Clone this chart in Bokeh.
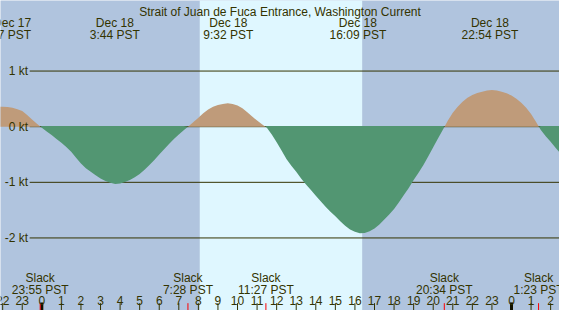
import numpy as np
from bokeh.plotting import figure
from bokeh.models import Range1d
from bokeh.core.properties import value
from bokeh.embed import file_html
from bokeh.resources import INLINE

# ---------------- data (hours from Dec 18 00:00 PST, knots) ----------------
title = "Strait of Juan de Fuca Entrance, Washington Current"

hours = [-2.5, -2.25, -2.0, -1.75, -1.5, -1.25, -1.0, -0.75, -0.5, -0.25,
         0.0, 0.25, 0.5, 0.75, 1.0, 1.25, 1.5, 1.75, 2.0, 2.25,
         2.5, 2.75, 3.0, 3.25, 3.5, 3.75, 4.0, 4.25, 4.5, 4.75,
         5.0, 5.25, 5.5, 5.75, 6.0, 6.25, 6.5, 6.75, 7.0, 7.25,
         7.5, 7.75, 8.0, 8.25, 8.5, 8.75, 9.0, 9.25, 9.5, 9.75,
         10.0, 10.25, 10.5, 10.75, 11.0, 11.25, 11.5, 11.75, 12.0, 12.25,
         12.5, 12.75, 13.0, 13.25, 13.5, 13.75, 14.0, 14.25, 14.5, 14.75,
         15.0, 15.25, 15.5, 15.75, 16.0, 16.25, 16.5, 16.75, 17.0, 17.25,
         17.5, 17.75, 18.0, 18.25, 18.5, 18.75, 19.0, 19.25, 19.5, 19.75,
         20.0, 20.25, 20.5, 20.75, 21.0, 21.25, 21.5, 21.75, 22.0, 22.25,
         22.5, 22.75, 23.0, 23.25, 23.5, 23.75, 24.0, 24.25, 24.5, 24.75,
         25.0, 25.25, 25.5, 25.75, 26.0, 26.25, 26.5]
speed = [0.35, 0.36, 0.36, 0.355, 0.34, 0.315, 0.28, 0.21, 0.13, 0.055,
         -0.02, -0.085, -0.15, -0.22, -0.29, -0.365, -0.45, -0.56, -0.66, -0.745,
         -0.81, -0.875, -0.93, -0.975, -1.01, -1.03, -1.02, -0.995, -0.96, -0.91,
         -0.85, -0.775, -0.69, -0.60, -0.50, -0.405, -0.31, -0.22, -0.14, -0.065,
         0.01, 0.085, 0.16, 0.24, 0.31, 0.36, 0.39, 0.41, 0.42, 0.41,
         0.38, 0.33, 0.26, 0.185, 0.11, 0.045, -0.02, -0.14, -0.28, -0.43,
         -0.58, -0.70, -0.81, -0.93, -1.04, -1.14, -1.24, -1.34, -1.44, -1.53,
         -1.61, -1.70, -1.78, -1.85, -1.89, -1.915, -1.91, -1.88, -1.83, -1.76,
         -1.67, -1.58, -1.48, -1.36, -1.23, -1.10, -0.96, -0.83, -0.69, -0.53,
         -0.37, -0.21, -0.05, 0.11, 0.25, 0.36, 0.45, 0.52, 0.57, 0.605,
         0.63, 0.65, 0.66, 0.65, 0.63, 0.60, 0.56, 0.50, 0.43, 0.34,
         0.23, 0.09, -0.06, -0.17, -0.27, -0.38, -0.48]

levels = [1, 0, -1, -2]
level_labels = ["1 kt", "0 kt", "-1 kt", "-2 kt"]

hour_ticks = list(range(-2, 27))
hour_labels = ["22", "23"] + [str(h) for h in range(24)] + ["0", "1", "2"]
midnights = [0, 24]

slack_times = [-0.083, 7.467, 11.45, 20.567, 25.383]
slack_labels = ["23:55 PST", "7:28 PST", "11:27 PST", "20:34 PST", "1:23 PST"]

peak_times = [3.733, 9.533, 16.15, 22.9]
peak_dates = ["Dec 18", "Dec 18", "Dec 18", "Dec 18"]
peak_labels = ["3:44 PST", "9:32 PST", "16:09 PST", "22:54 PST"]
first_peak_date = "Dec 17"
first_peak_label = "21:37 PST"

sunrise, sunset = 8.07, 16.37

# ---------------- styling ----------------
NIGHT = "#b0c4de"
DAY = "#dff7ff"
FLOOD = "#bf9b7a"
EBB = "#529672"
INK = "#333300"
FONT = value("Liberation Sans")
FS = "12px"

# reference pixel -> data helpers (reference: 575x326, 20.13 px/h, 58.5 px/kt)
def kx(px):
    return (px - 42.5) / 20.13

def ky(py):
    return (132.7 - py) / 58.5

W, H = 559, 310
p = figure(width=W, height=H, output_backend="svg", toolbar_location=None,
           x_range=Range1d(kx(0), kx(575)), y_range=Range1d(ky(326), ky(0)),
           min_border=0, min_border_left=0, min_border_right=0,
           min_border_top=0, min_border_bottom=0)
p.axis.visible = False
p.xgrid.visible = False
p.ygrid.visible = False
p.outline_line_color = None
p.background_fill_color = NIGHT
p.border_fill_color = NIGHT

# day band
p.quad(left=[sunrise], right=[sunset], bottom=[ky(340)], top=[ky(-20)],
       fill_color=DAY, line_color=None)

# horizontal level lines
p.segment(x0=[kx(30)] * len(levels), x1=[kx(580)] * len(levels),
          y0=levels, y1=levels, line_color=INK, line_width=1)

# curve with zero crossings inserted
t = np.array(hours, dtype=float)
v = np.array(speed, dtype=float)
tt, vv = [t[0]], [v[0]]
for i in range(1, len(t)):
    a, b = v[i - 1], v[i]
    if a * b < 0:
        tt.append(t[i - 1] + (t[i] - t[i - 1]) * a / (a - b))
        vv.append(0.0)
    tt.append(t[i])
    vv.append(b)
tt = np.array(tt)
vv = np.array(vv)

p.varea(x=tt, y1=np.zeros_like(vv), y2=np.maximum(vv, 0), fill_color=FLOOD)
p.varea(x=tt, y1=np.where(vv < 0, 0.012, 0.0), y2=np.minimum(vv, 0), fill_color=EBB)

# level labels
p.text(x=[kx(28.5)] * len(levels), y=levels, text=level_labels,
       text_font=FONT, text_font_size=FS, text_color=INK,
       text_align="right", text_baseline="middle")

# hour ticks
p.segment(x0=hour_ticks, x1=hour_ticks, y0=[ky(327)] * len(hour_ticks),
          y1=[ky(318.3)] * len(hour_ticks), line_color=INK, line_width=1)
p.segment(x0=midnights, x1=midnights, y0=[ky(327)] * 2, y1=[ky(317.5)] * 2,
          line_color="#111100", line_width=3)
p.segment(x0=slack_times, x1=slack_times, y0=[ky(327)] * len(slack_times),
          y1=[ky(318.3)] * len(slack_times), line_color="#ff0000", line_width=1)
p.text(x=hour_ticks, y=[ky(315.5)] * len(hour_ticks), text=hour_labels,
       text_font=FONT, text_font_size=FS, text_color=INK,
       text_align="center", text_baseline="alphabetic")

# slack labels
p.text(x=slack_times, y=[ky(291.7)] * len(slack_times), text=["Slack"] * len(slack_times),
       text_font=FONT, text_font_size=FS, text_color=INK,
       text_align="center", text_baseline="alphabetic")
p.text(x=slack_times, y=[ky(304.3)] * len(slack_times), text=slack_labels,
       text_font=FONT, text_font_size=FS, text_color=INK,
       text_align="center", text_baseline="alphabetic")

# peak labels
p.text(x=peak_times, y=[ky(24)] * len(peak_times), text=peak_dates,
       text_font=FONT, text_font_size=FS, text_color=INK,
       text_align="center", text_baseline="alphabetic")
p.text(x=peak_times, y=[ky(36)] * len(peak_times), text=peak_labels,
       text_font=FONT, text_font_size=FS, text_color=INK,
       text_align="center", text_baseline="alphabetic")
p.text(x=[kx(31.5)] * 2, y=[ky(24), ky(36)], text=[first_peak_date, first_peak_label],
       text_font=FONT, text_font_size=FS, text_color=INK,
       text_align="right", text_baseline="alphabetic")

# title
p.text(x=[kx(287.5)], y=[ky(12)], text=[title],
       text_font=FONT, text_font_size=FS, text_color=INK,
       text_align="center", text_baseline="alphabetic")

open("out.html", "w").write(file_html(p, INLINE))
